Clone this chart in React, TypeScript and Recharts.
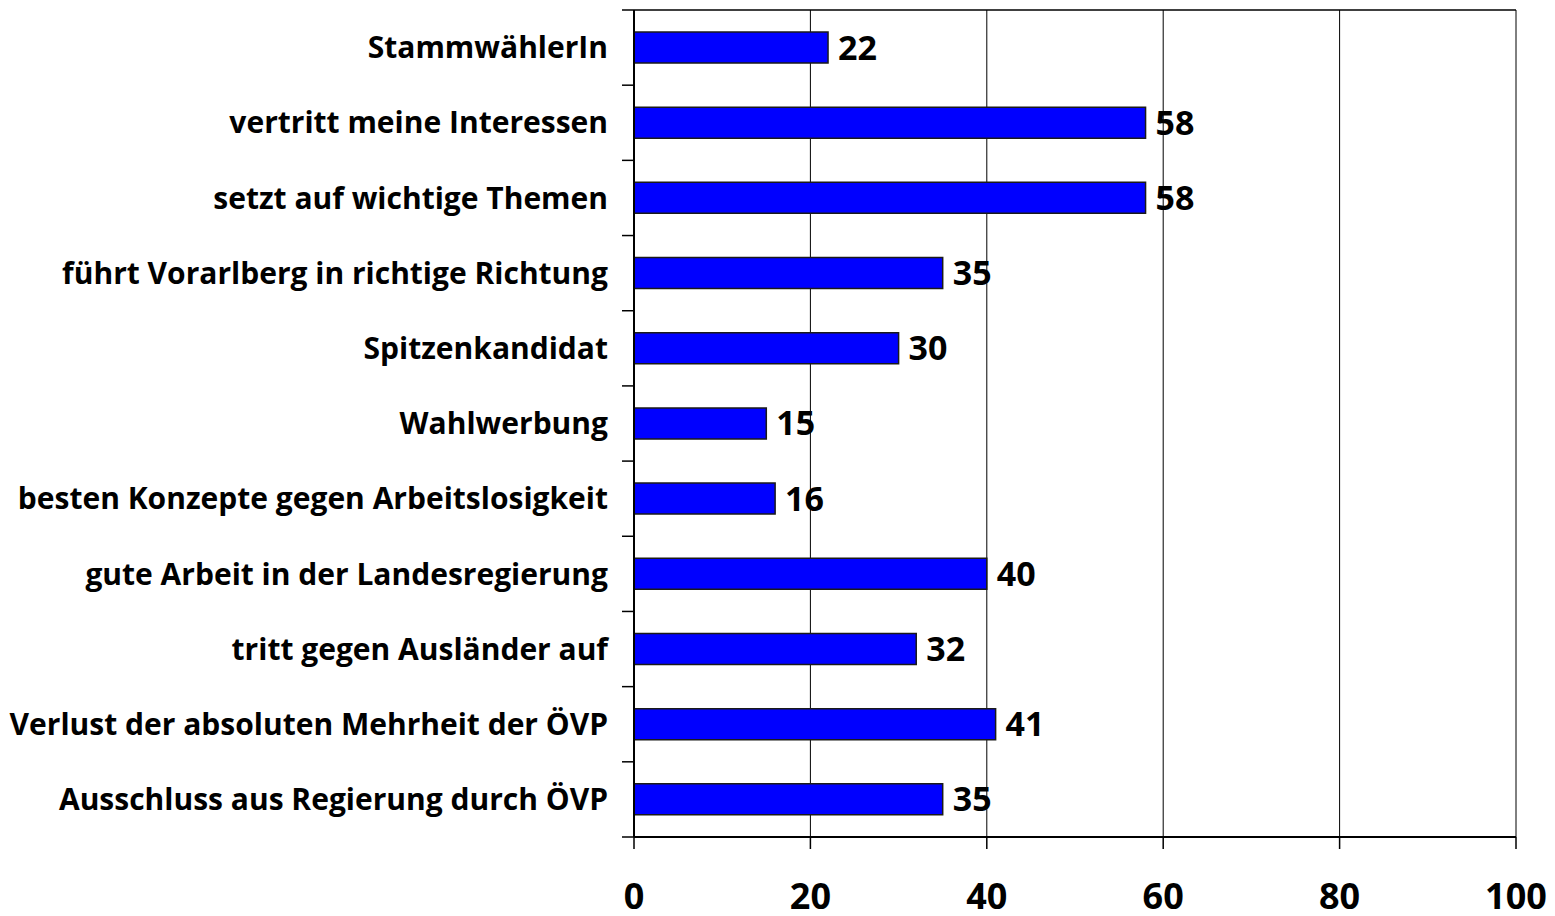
import { BarChart, Bar, XAxis, YAxis, CartesianGrid, LabelList } from 'recharts'

const CATEGORIES = [
  'StammwählerIn',
  'vertritt meine Interessen',
  'setzt auf wichtige Themen',
  'führt Vorarlberg in richtige Richtung',
  'Spitzenkandidat',
  'Wahlwerbung',
  'besten Konzepte gegen Arbeitslosigkeit',
  'gute Arbeit in der Landesregierung',
  'tritt gegen Ausländer auf',
  'Verlust der absoluten Mehrheit der ÖVP',
  'Ausschluss aus Regierung durch ÖVP',
]
const VALUES = [22, 58, 58, 35, 30, 15, 16, 40, 32, 41, 35]
const X_TICKS = [0, 20, 40, 60, 80, 100]

const FONT = '"Open Sans", sans-serif'
const LABEL_MARGIN = 26
const TICK_LEN = 12

const data = CATEGORIES.map((name, i) => ({ name, value: VALUES[i] }))

// category label plus a tick mark on the band boundaries (Excel style)
function CategoryTick(props: any) {
  const { x, y, payload, index, visibleTicksCount } = props
  const half = payload.offset || 0
  const axisX = x + LABEL_MARGIN
  const last = index === visibleTicksCount - 1
  return (
    <g>
      <line x1={axisX - TICK_LEN} x2={axisX} y1={y - half} y2={y - half} stroke="#000" strokeWidth={1.5} />
      {last && (
        <line x1={axisX - TICK_LEN} x2={axisX} y1={y + half} y2={y + half} stroke="#000" strokeWidth={1.5} />
      )}
      <text
        x={x}
        y={y}
        dy="0.355em"
        textAnchor="end"
        fill="#000"
        style={{ fontFamily: FONT, fontSize: 30, fontWeight: 700 }}
      >
        {payload.value}
      </text>
    </g>
  )
}

export default function App() {
  return (
    <div style={{ position: 'absolute', left: 0, top: 0, width: 1555, height: 916, background: '#fff' }}>
      <BarChart
        width={1555}
        height={916}
        data={data}
        layout="vertical"
        margin={{ top: 9, right: 39, bottom: 0, left: 0 }}
      >
        <CartesianGrid horizontal={false} stroke="#000" strokeWidth={1} />
        <XAxis
          type="number"
          domain={[0, 100]}
          ticks={X_TICKS}
          interval={0}
          height={79}
          tickSize={TICK_LEN}
          tickMargin={34}
          axisLine={{ stroke: '#000', strokeWidth: 2 }}
          tickLine={{ stroke: '#000', strokeWidth: 1.5 }}
          tick={{ fontFamily: FONT, fontSize: 36, fontWeight: 700, fill: '#000' }}
        />
        <XAxis
          xAxisId="top"
          orientation="top"
          type="number"
          domain={[0, 100]}
          height={1}
          tick={{ fontSize: 0 }}
          tickLine={false}
          axisLine={{ stroke: '#000', strokeWidth: 1.5 }}
        />
        <YAxis
          type="category"
          dataKey="name"
          width={634}
          interval={0}
          tickSize={0}
          tickMargin={LABEL_MARGIN}
          tickLine={false}
          axisLine={{ stroke: '#000', strokeWidth: 2 }}
          tick={<CategoryTick />}
        />
        <Bar
          dataKey="value"
          fill="#0000FF"
          stroke="#1a1a1a"
          strokeWidth={1.5}
          barSize={31}
          isAnimationActive={false}
        >
          <LabelList
            dataKey="value"
            position="right"
            offset={10}
            fill="#000"
            style={{ fontFamily: FONT, fontSize: 34, fontWeight: 700 }}
          />
        </Bar>
      </BarChart>
    </div>
  )
}
